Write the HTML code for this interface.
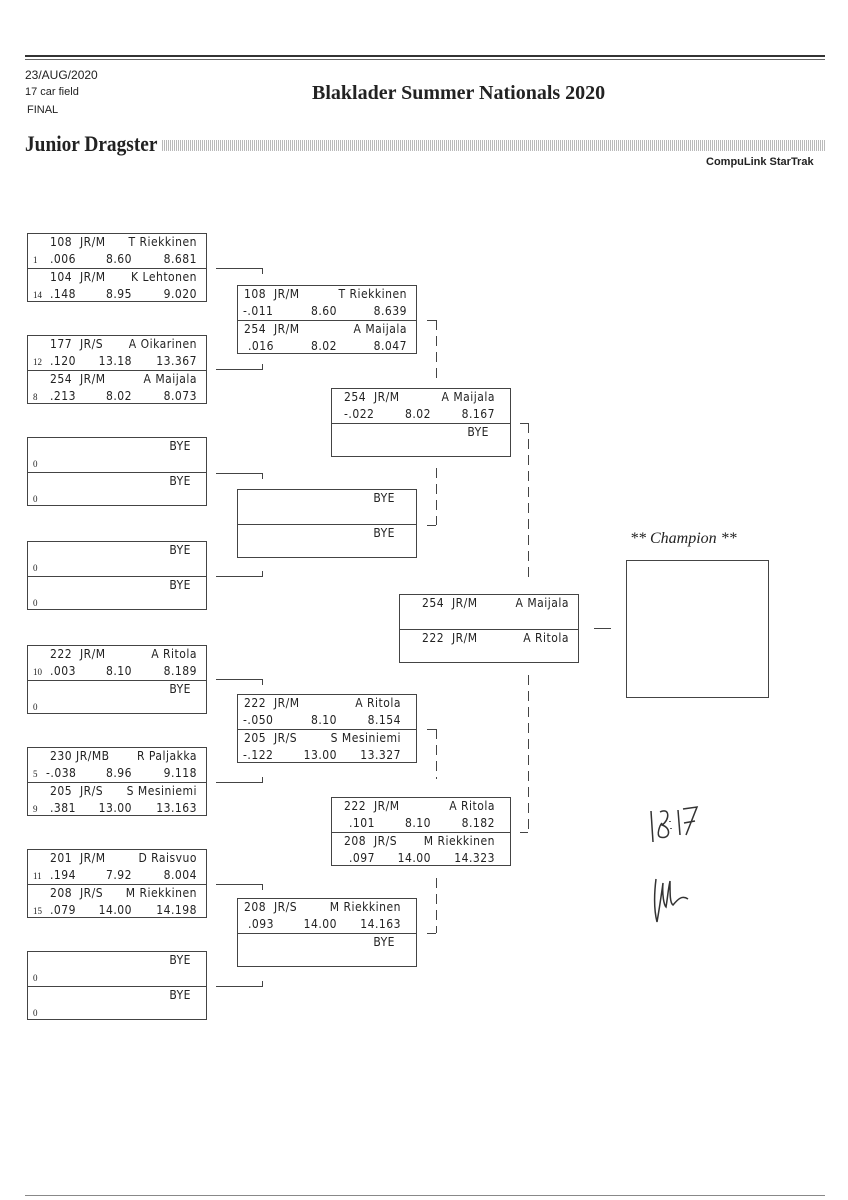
<!DOCTYPE html>
<html><head><meta charset="utf-8">
<style>
*{margin:0;padding:0;box-sizing:border-box}
body{width:848px;height:1200px;background:#fff;position:relative;overflow:hidden;font-family:"Liberation Sans",sans-serif;color:#222}
.a{position:absolute;white-space:nowrap}
.box{position:absolute;width:180px;height:69px;border:1px solid #444}
.h{position:absolute;left:0;width:178px;height:34px}
.h2{top:34px;border-top:1px solid #444}
.t{position:absolute;font-family:"DejaVu Sans Condensed","Liberation Sans Narrow","Liberation Sans",sans-serif;font-size:12px;letter-spacing:0.5px;line-height:14px;white-space:nowrap;color:#222}
.l1{top:1px}.l2{top:18px}
.sd{position:absolute;left:5px;top:21px;font-family:"Liberation Serif",serif;font-size:9px}
.r{text-align:right}
.hl{position:absolute;border-top:1px solid #444;height:0}
.vl{position:absolute;border-left:1px solid #444;width:0}
.dl{position:absolute;width:1px;background:repeating-linear-gradient(180deg,#444 0 10px,transparent 10px 16px)}
</style></head><body>
<div class="hl" style="left:25px;top:55px;width:800px;border-top:2px solid #333"></div>
<div class="hl" style="left:25px;top:59px;width:800px;border-top:1px solid #666"></div>
<div class="a" style="left:25px;top:68px;font-size:12px">23/AUG/2020</div>
<div class="a" style="left:25px;top:86px;font-size:11px">17 car field</div>
<div class="a" style="left:27px;top:104px;font-size:11px">FINAL</div>
<div class="a" style="left:312px;top:82px;font-family:'Liberation Serif',serif;font-weight:bold;font-size:20px">Blaklader Summer Nationals 2020</div>
<div class="a" style="left:25px;top:131px;font-family:'Liberation Serif',serif;font-weight:bold;font-size:22px;transform:scaleX(0.88);transform-origin:0 0">Junior Dragster</div>
<div class="a" style="left:162px;top:140px;width:664px;height:11px;background:repeating-linear-gradient(90deg,#aaa 0 1px,#fff 1px 2px),#ddd;opacity:.8"></div>
<div class="a" style="left:706px;top:156px;font-size:11px;font-weight:bold">CompuLink StarTrak</div>

<!-- Round 1 -->
<div class="box" style="left:27px;top:233px">
 <div class="h"><span class="t l1" style="left:22px">108&nbsp;&nbsp;JR/M</span><span class="t l1 r" style="right:9px">T Riekkinen</span><span class="sd">1</span><span class="t l2" style="left:22px">.006</span><span class="t l2 r" style="right:74px">8.60</span><span class="t l2 r" style="right:9px">8.681</span></div>
 <div class="h h2"><span class="t l1" style="left:22px">104&nbsp;&nbsp;JR/M</span><span class="t l1 r" style="right:9px">K Lehtonen</span><span class="sd">14</span><span class="t l2" style="left:22px">.148</span><span class="t l2 r" style="right:74px">8.95</span><span class="t l2 r" style="right:9px">9.020</span></div>
</div>
<div class="box" style="left:27px;top:335px">
 <div class="h"><span class="t l1" style="left:22px">177&nbsp;&nbsp;JR/S</span><span class="t l1 r" style="right:9px">A Oikarinen</span><span class="sd">12</span><span class="t l2" style="left:22px">.120</span><span class="t l2 r" style="right:74px">13.18</span><span class="t l2 r" style="right:9px">13.367</span></div>
 <div class="h h2"><span class="t l1" style="left:22px">254&nbsp;&nbsp;JR/M</span><span class="t l1 r" style="right:9px">A Maijala</span><span class="sd">8</span><span class="t l2" style="left:22px">.213</span><span class="t l2 r" style="right:74px">8.02</span><span class="t l2 r" style="right:9px">8.073</span></div>
</div>
<div class="box" style="left:27px;top:437px">
 <div class="h"><span class="t l1 r" style="right:15px">BYE</span><span class="sd">0</span></div>
 <div class="h h2"><span class="t l1 r" style="right:15px">BYE</span><span class="sd">0</span></div>
</div>
<div class="box" style="left:27px;top:541px">
 <div class="h"><span class="t l1 r" style="right:15px">BYE</span><span class="sd">0</span></div>
 <div class="h h2"><span class="t l1 r" style="right:15px">BYE</span><span class="sd">0</span></div>
</div>
<div class="box" style="left:27px;top:645px">
 <div class="h"><span class="t l1" style="left:22px">222&nbsp;&nbsp;JR/M</span><span class="t l1 r" style="right:9px">A Ritola</span><span class="sd">10</span><span class="t l2" style="left:22px">.003</span><span class="t l2 r" style="right:74px">8.10</span><span class="t l2 r" style="right:9px">8.189</span></div>
 <div class="h h2"><span class="t l1 r" style="right:15px">BYE</span><span class="sd">0</span></div>
</div>
<div class="box" style="left:27px;top:747px">
 <div class="h"><span class="t l1" style="left:22px">230 JR/MB</span><span class="t l1 r" style="right:9px">R Paljakka</span><span class="sd">5</span><span class="t l2" style="left:18px">-.038</span><span class="t l2 r" style="right:74px">8.96</span><span class="t l2 r" style="right:9px">9.118</span></div>
 <div class="h h2"><span class="t l1" style="left:22px">205&nbsp;&nbsp;JR/S</span><span class="t l1 r" style="right:9px">S Mesiniemi</span><span class="sd">9</span><span class="t l2" style="left:22px">.381</span><span class="t l2 r" style="right:74px">13.00</span><span class="t l2 r" style="right:9px">13.163</span></div>
</div>
<div class="box" style="left:27px;top:849px">
 <div class="h"><span class="t l1" style="left:22px">201&nbsp;&nbsp;JR/M</span><span class="t l1 r" style="right:9px">D Raisvuo</span><span class="sd">11</span><span class="t l2" style="left:22px">.194</span><span class="t l2 r" style="right:74px">7.92</span><span class="t l2 r" style="right:9px">8.004</span></div>
 <div class="h h2"><span class="t l1" style="left:22px">208&nbsp;&nbsp;JR/S</span><span class="t l1 r" style="right:9px">M Riekkinen</span><span class="sd">15</span><span class="t l2" style="left:22px">.079</span><span class="t l2 r" style="right:74px">14.00</span><span class="t l2 r" style="right:9px">14.198</span></div>
</div>
<div class="box" style="left:27px;top:951px">
 <div class="h"><span class="t l1 r" style="right:15px">BYE</span><span class="sd">0</span></div>
 <div class="h h2"><span class="t l1 r" style="right:15px">BYE</span><span class="sd">0</span></div>
</div>

<!-- Round 2 -->
<div class="box" style="left:237px;top:285px">
 <div class="h"><span class="t l1" style="left:6px">108&nbsp;&nbsp;JR/M</span><span class="t l1 r" style="right:9px">T Riekkinen</span><span class="t l2" style="left:5px">-.011</span><span class="t l2 r" style="right:79px">8.60</span><span class="t l2 r" style="right:9px">8.639</span></div>
 <div class="h h2"><span class="t l1" style="left:6px">254&nbsp;&nbsp;JR/M</span><span class="t l1 r" style="right:9px">A Maijala</span><span class="t l2" style="left:10px">.016</span><span class="t l2 r" style="right:79px">8.02</span><span class="t l2 r" style="right:9px">8.047</span></div>
</div>
<div class="box" style="left:237px;top:489px">
 <div class="h"><span class="t l1 r" style="right:21px">BYE</span></div>
 <div class="h h2"><span class="t l1 r" style="right:21px">BYE</span></div>
</div>
<div class="box" style="left:237px;top:694px">
 <div class="h"><span class="t l1" style="left:6px">222&nbsp;&nbsp;JR/M</span><span class="t l1 r" style="right:15px">A Ritola</span><span class="t l2" style="left:5px">-.050</span><span class="t l2 r" style="right:79px">8.10</span><span class="t l2 r" style="right:15px">8.154</span></div>
 <div class="h h2"><span class="t l1" style="left:6px">205&nbsp;&nbsp;JR/S</span><span class="t l1 r" style="right:15px">S Mesiniemi</span><span class="t l2" style="left:5px">-.122</span><span class="t l2 r" style="right:79px">13.00</span><span class="t l2 r" style="right:15px">13.327</span></div>
</div>
<div class="box" style="left:237px;top:898px">
 <div class="h"><span class="t l1" style="left:6px">208&nbsp;&nbsp;JR/S</span><span class="t l1 r" style="right:15px">M Riekkinen</span><span class="t l2" style="left:10px">.093</span><span class="t l2 r" style="right:79px">14.00</span><span class="t l2 r" style="right:15px">14.163</span></div>
 <div class="h h2"><span class="t l1 r" style="right:21px">BYE</span></div>
</div>

<!-- Round 3 -->
<div class="box" style="left:331px;top:388px">
 <div class="h"><span class="t l1" style="left:12px">254&nbsp;&nbsp;JR/M</span><span class="t l1 r" style="right:15px">A Maijala</span><span class="t l2" style="left:12px">-.022</span><span class="t l2 r" style="right:79px">8.02</span><span class="t l2 r" style="right:15px">8.167</span></div>
 <div class="h h2"><span class="t l1 r" style="right:21px">BYE</span></div>
</div>
<div class="box" style="left:331px;top:797px">
 <div class="h"><span class="t l1" style="left:12px">222&nbsp;&nbsp;JR/M</span><span class="t l1 r" style="right:15px">A Ritola</span><span class="t l2" style="left:17px">.101</span><span class="t l2 r" style="right:79px">8.10</span><span class="t l2 r" style="right:15px">8.182</span></div>
 <div class="h h2"><span class="t l1" style="left:12px">208&nbsp;&nbsp;JR/S</span><span class="t l1 r" style="right:15px">M Riekkinen</span><span class="t l2" style="left:17px">.097</span><span class="t l2 r" style="right:79px">14.00</span><span class="t l2 r" style="right:15px">14.323</span></div>
</div>

<!-- Round 4 -->
<div class="box" style="left:399px;top:594px">
 <div class="h"><span class="t l1" style="left:22px">254&nbsp;&nbsp;JR/M</span><span class="t l1 r" style="right:9px">A Maijala</span></div>
 <div class="h h2"><span class="t l1" style="left:22px">222&nbsp;&nbsp;JR/M</span><span class="t l1 r" style="right:9px">A Ritola</span></div>
</div>

<!-- Champion -->
<div class="a" style="left:630px;top:530px;font-family:'Liberation Serif',serif;font-style:italic;font-size:16px">** Champion **</div>
<div class="a" style="left:626px;top:560px;width:143px;height:138px;border:1px solid #444"></div>
<div class="hl" style="left:594px;top:628px;width:17px"></div>

<!-- R1->R2 connectors -->
<div class="hl" style="left:216px;top:268px;width:46px"></div><div class="vl" style="left:262px;top:268px;height:6px"></div>
<div class="hl" style="left:216px;top:369px;width:46px"></div><div class="vl" style="left:262px;top:364px;height:6px"></div>
<div class="hl" style="left:216px;top:473px;width:46px"></div><div class="vl" style="left:262px;top:473px;height:6px"></div>
<div class="hl" style="left:216px;top:576px;width:46px"></div><div class="vl" style="left:262px;top:571px;height:6px"></div>
<div class="hl" style="left:216px;top:679px;width:46px"></div><div class="vl" style="left:262px;top:679px;height:6px"></div>
<div class="hl" style="left:216px;top:782px;width:46px"></div><div class="vl" style="left:262px;top:777px;height:6px"></div>
<div class="hl" style="left:216px;top:884px;width:46px"></div><div class="vl" style="left:262px;top:884px;height:6px"></div>
<div class="hl" style="left:216px;top:986px;width:46px"></div><div class="vl" style="left:262px;top:981px;height:6px"></div>

<!-- R2->R3 -->
<div class="hl" style="left:427px;top:320px;width:9px"></div><div class="dl" style="left:436px;top:320px;height:62px"></div>
<div class="dl" style="left:436px;top:468px;height:57px"></div><div class="hl" style="left:427px;top:525px;width:9px"></div>
<div class="hl" style="left:427px;top:729px;width:9px"></div><div class="dl" style="left:436px;top:729px;height:50px"></div>
<div class="dl" style="left:436px;top:878px;height:55px"></div><div class="hl" style="left:427px;top:933px;width:9px"></div>

<!-- R3->R4 -->
<div class="hl" style="left:520px;top:423px;width:8px"></div><div class="dl" style="left:528px;top:423px;height:160px"></div>
<div class="dl" style="left:528px;top:675px;height:157px"></div><div class="hl" style="left:520px;top:832px;width:8px"></div>

<!-- handwriting -->
<svg class="a" style="left:640px;top:795px" width="120" height="140" viewBox="0 0 120 140">
<g fill="none" stroke="#333" stroke-width="1.5">
<path d="M11 16 L13 47"/><path d="M20 17 C30 12 30 25 22 30 C32 33 30 45 20 42 C16 40 20 30 22 28"/>
<path d="M30 26 l0 1 M31 33 l0 1"/><path d="M38 15 L40 40"/><path d="M43 14 L57 12 L46 40 M44 28 L55 26"/>
<path d="M16 84 C14 100 14 115 17 127 C20 110 22 95 23 88 C22 100 24 110 26 112 C28 100 28 95 30 86 C30 100 30 108 33 110 C38 104 42 100 48 104"/>
</g></svg>

<div class="hl" style="left:25px;top:1195px;width:800px;border-top:1px solid #888"></div>
</body></html>
